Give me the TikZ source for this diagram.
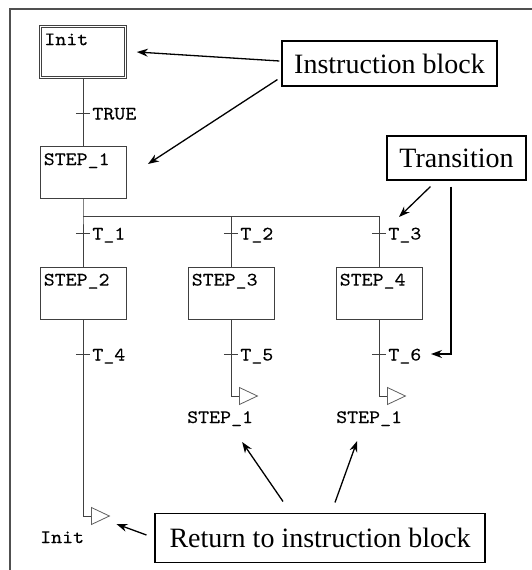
\documentclass[tikz,border=0pt]{standalone}
\usepackage{fontspec}
\setmainfont{Liberation Serif}
\newfontfamily\sfcmono[FakeStretch=1.1, FakeBold=0.25]{lmmono10-regular.otf}
\usepackage{tikz}
\usetikzlibrary{positioning, shapes.geometric, arrows.meta, calc}
\definecolor{grLine}{HTML}{404040}
\definecolor{grFrame}{HTML}{505050}
\definecolor{grTip}{HTML}{606060}
\newcommand{\sfcfont}{\fontsize{19}{21}\selectfont\sfcmono}
\newcommand{\notefont}{\fontsize{28}{32}\selectfont}
\tikzset{
  stepbox/.style={
    rectangle, draw=grLine, line width=0.9pt,
    minimum width=86pt, minimum height=52pt, inner sep=0pt,
    label={[anchor=base west, inner sep=0pt, xshift=4pt, yshift=-19pt, font=\sfcfont]north west:#1}
  },
  initbox/.style={
    stepbox=#1, double=white, double distance=1.4pt,
    minimum width=84.8pt, minimum height=50.8pt
  },
  transbar/.style={
    rectangle, minimum width=14pt, minimum height=0pt, inner sep=0pt,
    label={[anchor=base west, inner sep=0pt, xshift=2pt, yshift=-6.5pt, font=\sfcfont]east:#1}
  },
  jumptip/.style={
    isosceles triangle, isosceles triangle stretches,
    draw=grTip, line width=0.8pt, inner sep=0pt,
    minimum width=17pt, minimum height=18pt, anchor=west
  },
  jumplabel/.style={anchor=base west, inner sep=0pt, font=\sfcfont},
  note/.style={rectangle, draw=black, line width=1.1pt, inner sep=0pt, font=\notefont},
  flow/.style={grLine, line width=0.9pt},
  callout/.style={
    -{Stealth[length=11pt, width=8pt]},
    black, line width=1.3pt
  }
}
\begin{document}
\begin{tikzpicture}[x=1pt, y=-1pt]
        \useasboundingbox (0,0) rectangle (532,570);
        \draw[grFrame, line width=1.5pt] (10,570) -- (10,9) -- (532,9);
        % steps
        \node[initbox={Init}] (init) at (83,52) {};
        \node[stepbox={STEP\_1}] (s1) at (83,172.5) {};
        \node[stepbox={STEP\_2}] (s2) at (83,293) {};
        \node[stepbox={STEP\_3}] (s3) at (231,293) {};
        \node[stepbox={STEP\_4}] (s4) at (379,293) {};
        % transitions
        \node[transbar={TRUE}] (t0) at (83,113) {};
        \node[transbar={T\_1}] (t1) at (83,233) {};
        \node[transbar={T\_2}] (t2) at (231,233) {};
        \node[transbar={T\_3}] (t3) at (379,233) {};
        \node[transbar={T\_4}] (t4) at (83,354) {};
        \node[transbar={T\_5}] (t5) at (231,354) {};
        \node[transbar={T\_6}] (t6) at (379,354) {};
        \coordinate (br1) at (83,216);
        \coordinate (br2) at (231,216);
        \coordinate (j1) at (83,516);
        \coordinate (j2) at (231,396);
        \coordinate (j3) at (379,396);
        % jumps
        \node[jumptip] (jt1) at (91,516) {};
        \node[jumptip] (jt2) at (239,396) {};
        \node[jumptip] (jt3) at (387,396) {};
        \node[jumplabel] (r1) at (40,543) {Init};
        \node[jumplabel] (r2) at (187,423) {STEP\_1};
        \node[jumplabel] (r3) at (336,423) {STEP\_1};
        \draw[flow] (init) -- (t0) -- (s1);
        \draw[flow] (s1) -- (br1) -- (t1) -- (s2);
        \draw[flow] (br1) -| (t3) -- (s4);
        \draw[flow] (br2) -- (t2) -- (s3);
        \draw[flow] (s2) -- (t4) -- (j1) -- (jt1.west);
        \draw[flow] (s3) -- (t5) -- (j2) -- (jt2.west);
        \draw[flow] (s4) -- (t6) -- (j3) -- (jt3.west);
        \foreach \t in {t0,t1,t2,t3,t4,t5,t6}
          \draw[flow] (\t.west) -- (\t.east);
        % notes
        \node[note, minimum width=215pt, minimum height=45pt] (instr) at (389.5,63.5) {Instruction block};
        \node[note, minimum width=139pt, minimum height=44pt] (transit) at (456.5,158) {Transition};
        \node[note, minimum width=330pt, minimum height=49pt] (retn) at (320,538) {Return to instruction block};
        \draw[callout] ([xshift=-2pt, yshift=2.5pt]instr.west) -- ([xshift=11pt]init.east);
        \draw[callout] ([xshift=-4pt, yshift=7pt]instr.south west) -- ([xshift=21.5pt, yshift=8.5pt]s1.east);
        \draw[callout] ([xshift=44pt, yshift=-6pt]transit.south west) -- ([xshift=20pt, yshift=16pt]t3.center);
        \draw[callout] ([xshift=-5.5pt, yshift=-6pt]transit.south) |- ([xshift=52pt]t6.center);
        \draw[callout] ([xshift=-8pt, yshift=3pt]retn.west) -- ([xshift=6pt, yshift=-8pt]jt1.east);
        \draw[callout] ([xshift=-37pt, yshift=11.5pt]retn.north) -- ([xshift=22pt, yshift=-19pt]r2.base);
        \draw[callout] ([xshift=15pt, yshift=10.5pt]retn.north) -- ([xshift=-12pt, yshift=-18pt]r3.base);
\end{tikzpicture}
\end{document}
